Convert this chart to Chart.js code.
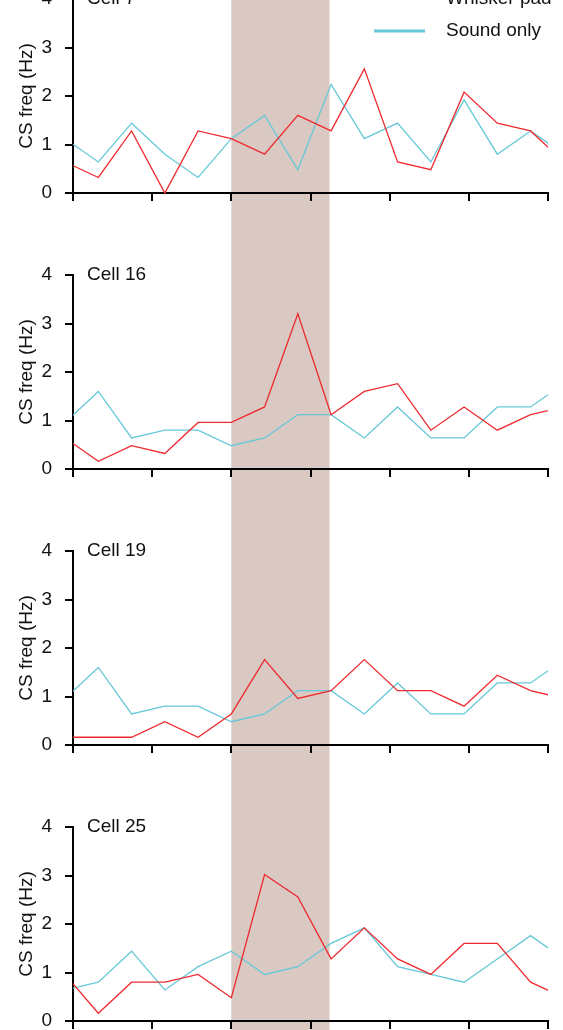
<!DOCTYPE html>
<html>
<head>
<meta charset="utf-8">
<script src="https://cdn.jsdelivr.net/npm/chart.js@4/dist/chart.umd.min.js"></script>
<style>
  html, body { margin: 0; padding: 0; background: #fff; }
  #figure { position: relative; width: 563px; height: 1030px; overflow: hidden; }
  #figure canvas { position: absolute; left: 0; }
</style>
</head>
<body>
<div id="figure"></div>
<script>
// time of each bin (s); shading marks the stimulus window
const timeBins = [-21, -16.8, -12.6, -8.4, -4.2, 0, 4.2, 8.4, 12.6, 16.8, 21, 25.2, 29.4, 33.6, 37.8, 42];
const xTickValues = [-20, -10, 0, 10, 20, 30, 40];
const yTickValues = [0, 1, 2, 3, 4];
const stimWindow = [0, 12.4];

const cellNames = ["Cell 7", "Cell 16", "Cell 19", "Cell 25"];
const seriesNames = ["Whisker pad", "Sound only"];

const cell7Whisker = [0.64, 0.32, 1.28, 0.0, 1.28, 1.12, 0.8, 1.6, 1.28, 2.56, 0.64, 0.48, 2.08, 1.44, 1.28, 0.64];
const cell7Sound = [1.12, 0.64, 1.44, 0.8, 0.32, 1.12, 1.6, 0.48, 2.24, 1.12, 1.44, 0.64, 1.92, 0.8, 1.28, 0.8];
const cell16Whisker = [0.64, 0.16, 0.48, 0.32, 0.96, 0.96, 1.28, 3.2, 1.12, 1.6, 1.76, 0.8, 1.28, 0.8, 1.12, 1.28];
const cell16Sound = [0.96, 1.6, 0.64, 0.8, 0.8, 0.48, 0.64, 1.12, 1.12, 0.64, 1.28, 0.64, 0.64, 1.28, 1.28, 1.76];
const cell19Whisker = [0.16, 0.16, 0.16, 0.48, 0.16, 0.64, 1.76, 0.96, 1.12, 1.76, 1.12, 1.12, 0.8, 1.44, 1.12, 0.96];
const cell19Sound = [0.96, 1.6, 0.64, 0.8, 0.8, 0.48, 0.64, 1.12, 1.12, 0.64, 1.28, 0.64, 0.64, 1.28, 1.28, 1.76];
const cell25Whisker = [0.96, 0.16, 0.8, 0.8, 0.96, 0.48, 3.02, 2.56, 1.28, 1.92, 1.28, 0.96, 1.6, 1.6, 0.8, 0.48];
const cell25Sound = [0.64, 0.8, 1.44, 0.64, 1.12, 1.44, 0.96, 1.12, 1.6, 1.92, 1.12, 0.96, 0.8, 1.28, 1.76, 1.28];

const RED = "#ee2a2f";
const CYAN = "#66c8d8";
const SHADE = "#d9c9c2";
const FONT = '"Liberation Sans", Arial, Helvetica, sans-serif';

const PANEL_H = 276;
const PANEL_TOP = -41;

const panels = [
  { name: cellNames[0], whisker: cell7Whisker, sound: cell7Sound },
  { name: cellNames[1], whisker: cell16Whisker, sound: cell16Sound },
  { name: cellNames[2], whisker: cell19Whisker, sound: cell19Sound },
  { name: cellNames[3], whisker: cell25Whisker, sound: cell25Sound },
];

const panelDecor = {
  id: "panelDecor",
  beforeDraw(chart) {
    const { ctx, scales } = chart;
    const x0 = scales.x.getPixelForValue(stimWindow[0]);
    const x1 = scales.x.getPixelForValue(stimWindow[1]);
    ctx.save();
    ctx.fillStyle = SHADE;
    ctx.fillRect(x0, 0, x1 - x0, chart.height);
    ctx.restore();
  },
  afterDraw(chart, args, opts) {
    const { ctx, chartArea, scales } = chart;
    ctx.save();
    ctx.font = `19px ${FONT}`;
    ctx.fillStyle = "#111";
    ctx.textBaseline = "middle";
    ctx.textAlign = "left";
    ctx.fillText(opts.title, chartArea.left + 14, scales.y.getPixelForValue(yTickValues[yTickValues.length - 1]));

    if (opts.legend) {
      // legend rows; the top one is cut off by the figure edge
      const rows = [44.5, 77];
      chart.data.datasets.forEach((ds, i) => {
        const base = rows[i];
        ctx.strokeStyle = ds.borderColor;
        ctx.lineWidth = 3;
        ctx.beginPath();
        ctx.moveTo(374, base - 5);
        ctx.lineTo(425, base - 5);
        ctx.stroke();
        ctx.textBaseline = "alphabetic";
        ctx.fillText(ds.label, 446, base);
      });
    }
    ctx.restore();
  },
};

function series(values) {
  return timeBins.map((t, i) => ({ x: t, y: values[i] }));
}

function makePanel(panel, index) {
  const canvas = document.createElement("canvas");
  canvas.width = 563;
  canvas.height = PANEL_H;
  canvas.style.top = `${PANEL_TOP + index * PANEL_H}px`;
  document.getElementById("figure").appendChild(canvas);

  const axisLine = { color: "#000", width: 2 };
  const tickMarks = { drawOnChartArea: false, drawTicks: true, tickLength: 8, color: "#000", lineWidth: 2 };

  return new Chart(canvas, {
    type: "line",
    data: {
      datasets: [
        {
          label: seriesNames[0],
          data: series(panel.whisker),
          borderColor: RED,
          borderWidth: 1.3,
          pointRadius: 0,
          tension: 0,
          clip: { left: 0, right: 0, top: 4, bottom: 4 },
        },
        {
          label: seriesNames[1],
          data: series(panel.sound),
          borderColor: CYAN,
          borderWidth: 1.3,
          pointRadius: 0,
          tension: 0,
          clip: { left: 0, right: 0, top: 4, bottom: 4 },
        },
      ],
    },
    options: {
      responsive: false,
      animation: false,
      devicePixelRatio: 1,
      layout: { padding: { top: 40, right: 15, left: 0, bottom: 0 } },
      scales: {
        x: {
          type: "linear",
          min: xTickValues[0],
          max: xTickValues[xTickValues.length - 1],
          afterBuildTicks: (scale) => {
            scale.ticks = xTickValues.map((v) => ({ value: v }));
          },
          ticks: { display: false },
          grid: tickMarks,
          border: axisLine,
          afterFit: (scale) => {
            scale.height = 42;
          },
        },
        y: {
          min: yTickValues[0],
          max: yTickValues[yTickValues.length - 1],
          afterBuildTicks: (scale) => {
            scale.ticks = yTickValues.map((v) => ({ value: v }));
          },
          ticks: { color: "#111", padding: 13, font: { size: 19, family: FONT } },
          grid: tickMarks,
          border: axisLine,
          title: {
            display: true,
            text: "CS freq (Hz)",
            color: "#111",
            font: { size: 19, family: FONT },
            padding: { top: 15, bottom: 0 },
          },
          afterFit: (scale) => {
            scale.width = 73;
          },
        },
      },
      plugins: {
        legend: { display: false },
        tooltip: { enabled: false },
        panelDecor: { title: panel.name, legend: index === 0 },
      },
    },
    plugins: [panelDecor],
  });
}

panels.forEach(makePanel);
</script>
</body>
</html>
